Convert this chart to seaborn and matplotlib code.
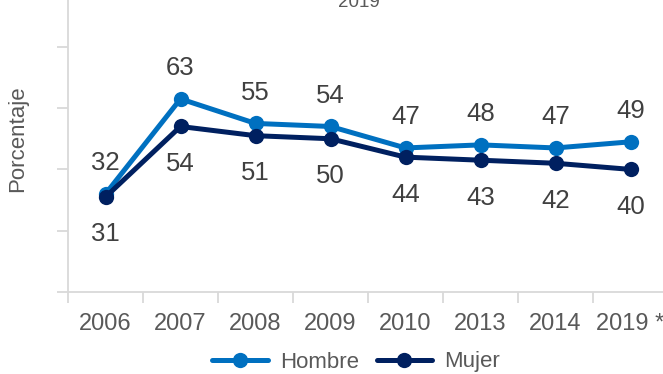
import matplotlib
matplotlib.use("Agg")
import matplotlib.pyplot as plt
import seaborn as sns
import pandas as pd
from matplotlib.ticker import FixedLocator, NullFormatter
from matplotlib.lines import Line2D

anios = ["2006", "2007", "2008", "2009", "2010", "2013", "2014", "2019 *"]
hombre = [32, 63, 55, 54, 47, 48, 47, 49]
mujer = [31, 54, 51, 50, 44, 43, 42, 40]
series = ["Hombre", "Mujer"]
colores = {"Hombre": "#0070C0", "Mujer": "#002060"}

df = pd.DataFrame({
    "Año": anios * 2,
    "Valor": hombre + mujer,
    "Sexo": ["Hombre"] * len(anios) + ["Mujer"] * len(anios),
})

sns.set_style("white")
plt.rcParams["font.family"] = ["Liberation Sans", "DejaVu Sans"]

W, H = 663, 374
fig = plt.figure(figsize=(W / 100, H / 100), dpi=100)
ax = fig.add_axes([68 / W, (H - 292) / H, 600 / W, 306.5 / H])

sns.lineplot(data=df, x="Año", y="Valor", hue="Sexo", palette=colores,
             marker="o", markersize=11, markeredgewidth=0, linewidth=3.6,
             sort=False, ax=ax, legend=False)

ax.set_xlim(-0.5, 7.5)
ax.set_ylim(0, 100)

grey = "#D9D9D9"
for s in ["top", "right"]:
    ax.spines[s].set_visible(False)
for s in ["left", "bottom"]:
    ax.spines[s].set_color(grey)
    ax.spines[s].set_linewidth(1.3)

ax.yaxis.set_major_locator(FixedLocator([0, 20, 40, 60, 80, 100]))
ax.yaxis.set_major_formatter(NullFormatter())
ax.tick_params(axis="y", which="major", length=8, width=1.3, color=grey, left=True)

ax.set_xticks(range(len(anios)))
ax.set_xticklabels(anios)
ax.xaxis.set_minor_locator(FixedLocator([i - 0.5 for i in range(len(anios) + 1)]))
ax.tick_params(axis="x", which="major", length=0, pad=15, labelsize=17, labelcolor="#595959")
ax.tick_params(axis="x", which="minor", length=8, width=1.3, color=grey, bottom=True)

ax.set_xlabel("")
ax.set_ylabel("Porcentaje", fontsize=16, color="#595959")
ax.yaxis.set_label_coords(-40 / 600, 0.5)

for i, (h, m) in enumerate(zip(hombre, mujer)):
    ax.annotate(str(h), (i, h), xytext=(0, 22), textcoords="offset points",
                ha="center", va="center", fontsize=18.5, color="#404040")
    ax.annotate(str(m), (i, m), xytext=(0, -27), textcoords="offset points",
                ha="center", va="center", fontsize=18.5, color="#404040")

fig.text(359 / W, 1.0 - 7 / H, "2019", ha="center", va="baseline", fontsize=13.5, color="#595959")

handles = [Line2D([], [], color=colores[s], lw=3.6, marker="o", markersize=11,
                  markeredgewidth=0) for s in series]
fig.legend(handles, series, loc="center", bbox_to_anchor=(356 / W, 1 - 362 / H),
           ncol=2, frameon=False, fontsize=16, handlelength=2.5, columnspacing=0.8,
           handletextpad=0.55, labelcolor="#595959")

fig.savefig("out.png", dpi=100)
